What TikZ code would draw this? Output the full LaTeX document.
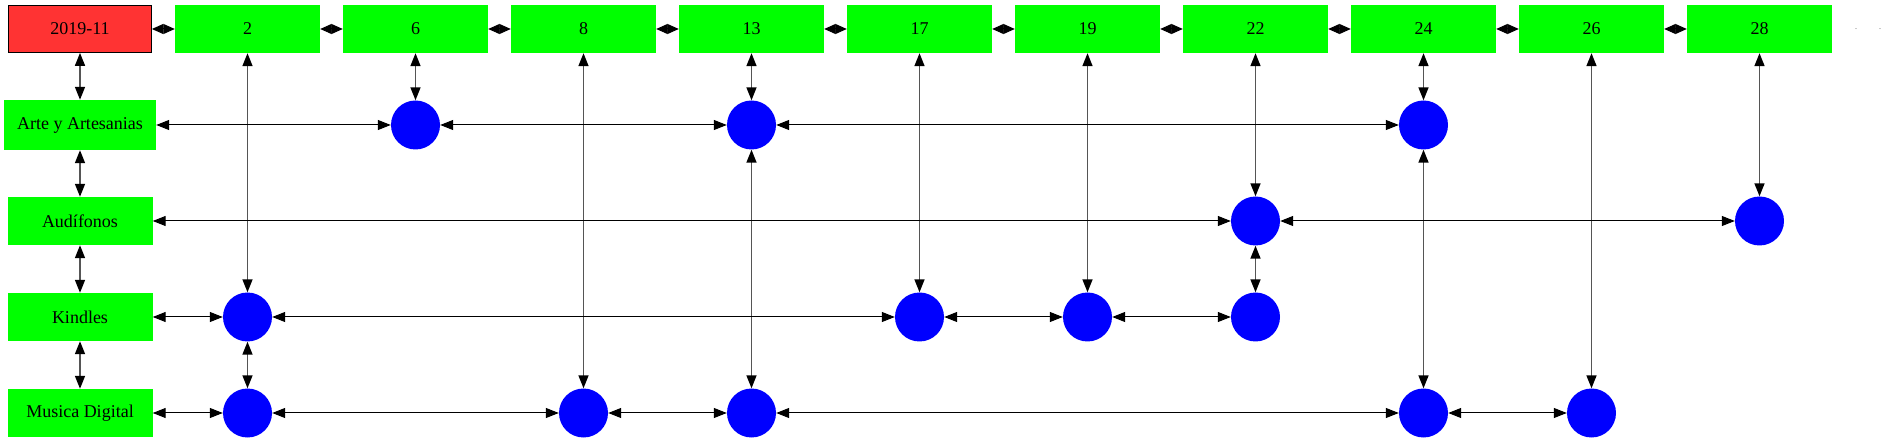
\documentclass[tikz,border=0pt]{standalone}
\usepackage{fontspec}
\setmainfont{Liberation Serif}
\usetikzlibrary{arrows.meta}
\definecolor{ggreen}{RGB}{0,255,0}
\definecolor{rred}{RGB}{255,51,51}
\definecolor{bblue}{RGB}{0,0,255}
\definecolor{egray}{RGB}{85,85,85}
\begin{document}
\begin{tikzpicture}[x=1pt,y=-1pt,
  box/.style={fill=ggreen,draw=none,minimum width=145pt,minimum height=48pt,inner sep=0pt,font=\fontsize{18}{20}\selectfont},
  datebox/.style={box,fill=rred,draw=black,line width=0.8pt,minimum width=143pt,minimum height=47pt},
  dot/.style={circle,fill=bblue,draw=none,minimum size=49pt,inner sep=0pt},
  hl/.style={{Triangle[length=13pt,width=10pt,color=black]}-{Triangle[length=13pt,width=10pt,color=black]},line width=1pt,draw=black},
  vl/.style={{Triangle[length=13pt,width=10pt,color=black]}-{Triangle[length=13pt,width=10pt,color=black]},line width=1.6pt,draw=egray},
  tl/.style={{Triangle[length=11.5pt,width=10pt,color=black]}-{Triangle[length=11.5pt,width=10pt,color=black]},line width=1pt,draw=black},
  tiny/.style={font=\fontsize{8}{8}\selectfont,text=black!70,inner sep=0pt}
]
\useasboundingbox (0,0) rectangle (1885,443);
% header row
\node[datebox] (d) at (80,29) {2019-11};
\node[box] (h2) at (247.5,29) {2};
\node[box] (h6) at (415.5,29) {6};
\node[box] (h8) at (583.5,29) {8};
\node[box] (h13) at (751.5,29) {13};
\node[box] (h17) at (919.5,29) {17};
\node[box] (h19) at (1087.5,29) {19};
\node[box] (h22) at (1255.5,29) {22};
\node[box] (h24) at (1423.5,29) {24};
\node[box] (h26) at (1591.5,29) {26};
\node[box] (h28) at (1759.5,29) {28};
\node[tiny] (t1) at (1856,29) {.};
\node[tiny] (t2) at (1880,29) {.};
% row labels
\node[box,minimum width=152pt,minimum height=50pt] (arte) at (80,125) {Arte y Artesanias};
\node[box] (aud) at (80,221) {Audífonos};
\node[box] (kin) at (80,317) {Kindles};
\node[box] (mus) at (80,413) {Musica Digital};
% circles
\node[dot] (a6) at (415.5,125) {};
\node[dot] (a13) at (751.5,125) {};
\node[dot] (a24) at (1423.5,125) {};
\node[dot] (u22) at (1255.5,221) {};
\node[dot] (u28) at (1759.5,221) {};
\node[dot] (k2) at (247.5,317) {};
\node[dot] (k17) at (919.5,317) {};
\node[dot] (k19) at (1087.5,317) {};
\node[dot] (k22) at (1255.5,317) {};
\node[dot] (m2) at (247.5,413) {};
\node[dot] (m8) at (583.5,413) {};
\node[dot] (m13) at (751.5,413) {};
\node[dot] (m24) at (1423.5,413) {};
\node[dot] (m26) at (1591.5,413) {};
% vertical edges
\draw[vl] (d) -- (arte);
\draw[vl] (arte) -- (aud);
\draw[vl] (aud) -- (kin);
\draw[vl] (kin) -- (mus);
\draw[vl] (h2) -- (k2);
\draw[vl] (k2) -- (m2);
\draw[vl] (h6) -- (a6);
\draw[vl] (h8) -- (m8);
\draw[vl] (h13) -- (a13);
\draw[vl] (a13) -- (m13);
\draw[vl] (h17) -- (k17);
\draw[vl] (h19) -- (k19);
\draw[vl] (h22) -- (u22);
\draw[vl] (u22) -- (k22);
\draw[vl] (h24) -- (a24);
\draw[vl] (a24) -- (m24);
\draw[vl] (h26) -- (m26);
\draw[vl] (h28) -- (u28);
% header edges
\draw[tl] (d) -- (h2);
\draw[tl] (h2) -- (h6);
\draw[tl] (h6) -- (h8);
\draw[tl] (h8) -- (h13);
\draw[tl] (h13) -- (h17);
\draw[tl] (h17) -- (h19);
\draw[tl] (h19) -- (h22);
\draw[tl] (h22) -- (h24);
\draw[tl] (h24) -- (h26);
\draw[tl] (h26) -- (h28);
% horizontal edges
\draw[hl] (arte) -- (a6);
\draw[hl] (a6) -- (a13);
\draw[hl] (a13) -- (a24);
\draw[hl] (aud) -- (u22);
\draw[hl] (u22) -- (u28);
\draw[hl] (kin) -- (k2);
\draw[hl] (k2) -- (k17);
\draw[hl] (k17) -- (k19);
\draw[hl] (k19) -- (k22);
\draw[hl] (mus) -- (m2);
\draw[hl] (m2) -- (m8);
\draw[hl] (m8) -- (m13);
\draw[hl] (m13) -- (m24);
\draw[hl] (m24) -- (m26);
\end{tikzpicture}
\end{document}
